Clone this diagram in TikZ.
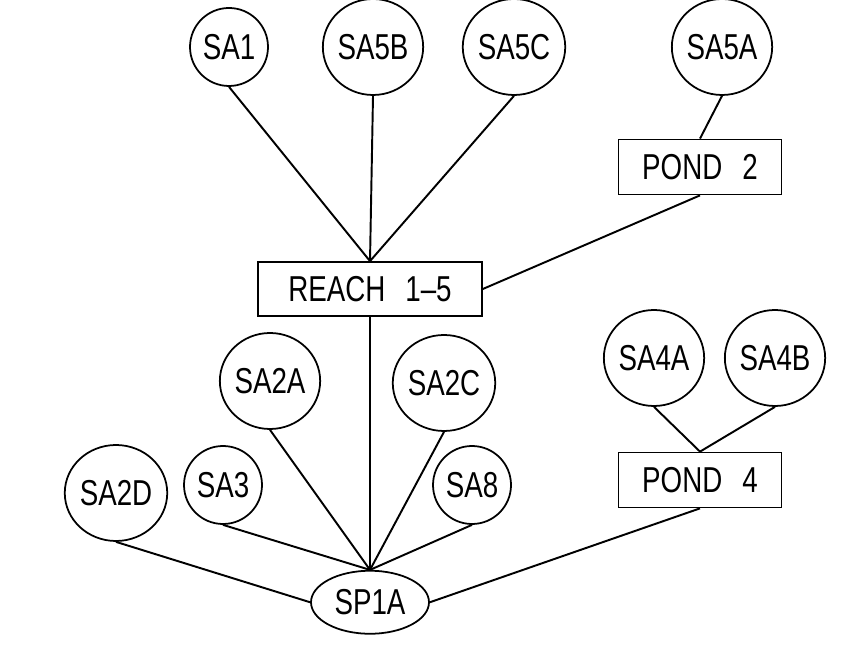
\documentclass[tikz,border=0pt]{standalone}
\usepackage{fontspec}
\setmainfont{Liberation Sans}[FakeStretch=0.77]
\usepackage{tikz}
\usetikzlibrary{positioning,calc,shapes.geometric}

\begin{document}
\begin{tikzpicture}[
font=\fontsize{20.5}{24}\selectfont,
area/.style={
draw,
ellipse,
line width=1pt,
inner sep=0pt,
minimum width=1.92cm,
minimum height=1.92cm
},
smallarea/.style={
draw,
ellipse,
line width=1pt,
inner sep=0pt,
minimum width=1.56cm,
minimum height=1.56cm
},
box/.style={
draw,
line width=1pt,
inner sep=0pt,
minimum width=3.26cm,
minimum height=1.1cm
},
link/.style={
line width=1.1pt
}
]

\useasboundingbox (0,0) rectangle (17.3,12.88);


% Upper sub areas

\node (reach) [box, minimum width=4.48cm, minimum height=1.08cm] at (7.40,7.10)
{REACH\hspace{0.4cm}1--5};

\node (sa1) [smallarea] at (4.58,11.94) {SA1};

\node (sa5b) [area] at (7.46,11.94) {SA5B};

\node (sa5c) [area] at (10.28,11.94) {SA5C};

\node (sa5a) [area] at (14.44,11.94) {SA5A};

\node (pond2) [box] at (14.00,9.54) {POND\hspace{0.4cm}2};


\draw[link] (sa1.south) -- (reach.north);
\draw[link] (sa5b.south) -- (reach.north);
\draw[link] (sa5c.south) -- (reach.north);
\draw[link] (sa5a.south) -- (pond2.north);
\draw[link] (pond2.south) -- (reach.east);


% Outlet

\node (sp1a) [area, minimum width=2.36cm, minimum height=1.26cm, below=5.06cm of reach]
{SP1A};


\draw[link] (reach.south) -- (sp1a.north);


% Lower sub areas

\node (sa2a) [area] at (5.40,5.26) {SA2A};

\node (sa2c) [area] at (8.88,5.22) {SA2C};

\node (sa2d) [area] at (2.32,3.02) {SA2D};

\node (sa3) [smallarea] at (4.46,3.18) {SA3};

\node (sa8) [smallarea] at (9.44,3.18) {SA8};


\draw[link] (sa2a.south) -- (sp1a.north);
\draw[link] (sa2c.south) -- (sp1a.north);
\draw[link] (sa3.south) -- (sp1a.north);
\draw[link] (sa8.south) -- (sp1a.north);
\draw[link] (sa2d.south) -- (sp1a.west);


% Pond 4 branch

\node (sa4a) [area] at (13.08,5.72) {SA4A};

\node (sa4b) [area] at (15.50,5.72) {SA4B};

\node (pond4) [box] at (14.00,3.28) {POND\hspace{0.4cm}4};


\draw[link] (sa4a.south) -- (pond4.north);
\draw[link] (sa4b.south) -- (pond4.north);
\draw[link] (pond4.south) -- (sp1a.east);


\end{tikzpicture}
\end{document}
